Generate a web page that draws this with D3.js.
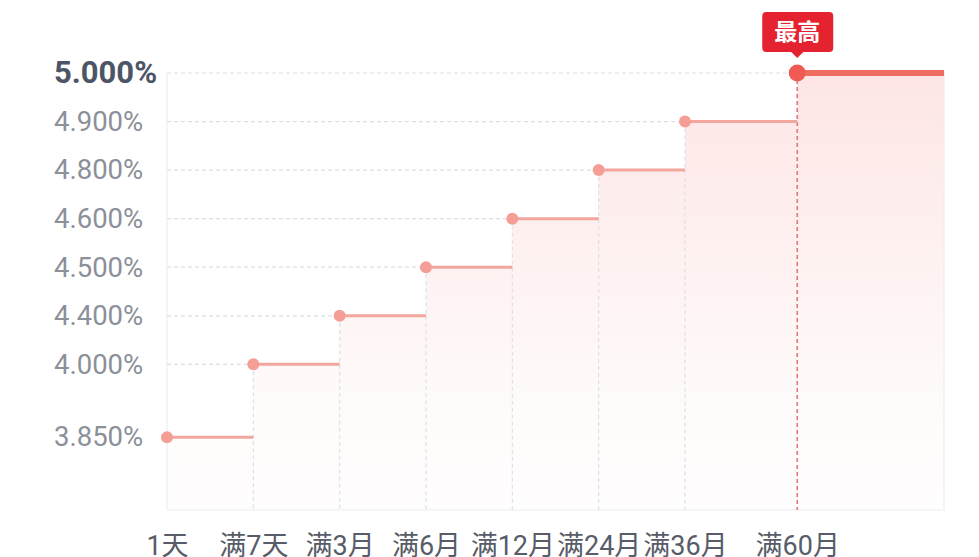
<!DOCTYPE html>
<html lang="zh">
<head>
<meta charset="UTF-8">
<title>利率阶梯</title>
<script src="https://d3js.org/d3.v7.min.js"></script>
<style>
  html, body { margin: 0; padding: 0; background: #fff; }
  svg { display: block; }
  text { font-family: Roboto, "Noto Sans CJK SC", sans-serif; }
</style>
</head>
<body>
<svg width="979" height="557"></svg>
<script>
// 存期与利率
const terms = ["1天", "满7天", "满3月", "满6月", "满12月", "满24月", "满36月", "满60月"];
const termSlot = [0, 1, 2, 3, 4, 5, 6, 7.3];   // 横轴上的档位
const rates = [3.85, 4.0, 4.4, 4.5, 4.6, 4.8, 4.9, 5.0];
const rateSlot = [1.5, 3, 4, 5, 6, 7, 8, 9];    // 纵轴上的档位
const rateLabels = ["3.850%", "4.000%", "4.400%", "4.500%", "4.600%", "4.800%", "4.900%", "5.000%"];
const highLabel = "最高";

const plotL = 167, plotR = 944, plotT = 73, plotB = 510;
const svg = d3.select("svg");

const x = d3.scaleLinear().domain([0, 9]).range([plotL, plotR]);
const yRank = d3.scaleLinear().domain([0, 9]).range([plotB, plotT]);
const y = d3.scaleLinear().domain(rates).range(rateSlot.map(yRank));

const pts = terms.map((t, i) => ({ term: t, rate: rates[i], x: x(termSlot[i]), y: y(rates[i]) }));
const last = pts[pts.length - 1];
const endX = x(9);

// 渐变
const grad = svg.append("defs").append("linearGradient")
  .attr("id", "fill").attr("gradientUnits", "userSpaceOnUse")
  .attr("x1", 0).attr("x2", 0).attr("y1", plotT).attr("y2", plotB);
grad.append("stop").attr("offset", 0).attr("stop-color", "#f46a64").attr("stop-opacity", 0.17);
grad.append("stop").attr("offset", 0.75).attr("stop-color", "#f46a64").attr("stop-opacity", 0.03);
grad.append("stop").attr("offset", 1).attr("stop-color", "#f46a64").attr("stop-opacity", 0.01);

// 面积
const areaPts = pts.concat([{ x: endX, y: last.y }]);
svg.append("path")
  .datum(areaPts)
  .attr("fill", "url(#fill)")
  .attr("d", d3.area().curve(d3.curveStepAfter).x(d => d.x).y0(plotB).y1(d => d.y));

// 边框
svg.append("path")
  .attr("d", `M${plotL},${plotT}V${plotB}H${plotR}V${plotT}`)
  .attr("fill", "none").attr("stroke", "#eceef2").attr("stroke-width", 1.2);

// 横向虚线（到点为止）
svg.selectAll(".hgrid").data(pts).enter().append("line")
  .attr("x1", plotL).attr("x2", d => d.x)
  .attr("y1", d => d.y).attr("y2", d => d.y)
  .attr("stroke", "#dcdfe6").attr("stroke-width", 1.2).attr("stroke-dasharray", "4,3");

// 纵向虚线
svg.selectAll(".vgrid").data(pts.slice(1)).enter().append("line")
  .attr("x1", d => d.x).attr("x2", d => d.x)
  .attr("y1", d => d.y).attr("y2", plotB)
  .attr("stroke", (d, i) => i === pts.length - 2 ? "#e7787a" : "#dde0e8")
  .attr("stroke-width", (d, i) => i === pts.length - 2 ? 1.6 : 1.2)
  .attr("stroke-dasharray", "4,3");

// 阶梯线
svg.selectAll(".seg").data(pts).enter().append("line")
  .attr("x1", d => d.x)
  .attr("x2", (d, i) => i < pts.length - 1 ? pts[i + 1].x : endX)
  .attr("y1", d => d.y).attr("y2", d => d.y)
  .attr("stroke", (d, i) => i < pts.length - 1 ? "#f3a69d" : "#f06d63")
  .attr("stroke-width", (d, i) => i < pts.length - 1 ? 3 : 6);

// 点
svg.selectAll(".dot").data(pts).enter().append("circle")
  .attr("cx", d => d.x).attr("cy", d => d.y)
  .attr("r", (d, i) => i < pts.length - 1 ? 6 : 8.5)
  .attr("fill", (d, i) => i < pts.length - 1 ? "#f59e96" : "#ef5b52");

// 纵轴标签
const yAxis = svg.append("g")
  .attr("transform", "translate(54,0)")
  .call(d3.axisLeft(y).tickValues(rates).tickFormat((d, i) => rateLabels[i]).tickSize(0));
yAxis.select(".domain").remove();
yAxis.selectAll("text")
  .attr("x", 0).attr("text-anchor", "start")
  .attr("fill", (d, i) => i === rates.length - 1 ? "#4c5465" : "#8b9099")
  .style("font-size", (d, i) => i === rates.length - 1 ? "31px" : "27.5px")
  .style("font-weight", (d, i) => i === rates.length - 1 ? "bold" : "normal");

// 横轴标签
const xAxis = svg.append("g")
  .attr("transform", `translate(0,${plotB})`)
  .call(d3.axisBottom(x).tickValues(termSlot).tickFormat((d, i) => terms[i]).tickSize(0));
xAxis.select(".domain").remove();
xAxis.selectAll("text")
  .attr("y", 45).attr("dy", 0)
  .attr("fill", "#575c68")
  .style("font-size", "27px");

// 最高 标记
const tip = svg.append("g").attr("transform", `translate(${last.x},${last.y})`);
tip.append("rect")
  .attr("x", -35).attr("y", -61).attr("width", 71).attr("height", 40).attr("rx", 4)
  .attr("fill", "#e5222f");
tip.append("path")
  .attr("d", "M-7,-22L0,-15L7,-22Z")
  .attr("fill", "#e5222f");
tip.append("text")
  .attr("x", 0).attr("y", -33)
  .attr("text-anchor", "middle")
  .attr("fill", "#fff")
  .style("font-size", "23px").style("font-weight", "bold")
  .style("font-family", "'Noto Sans CJK SC', sans-serif")
  .text(highLabel);
</script>
</body>
</html>
